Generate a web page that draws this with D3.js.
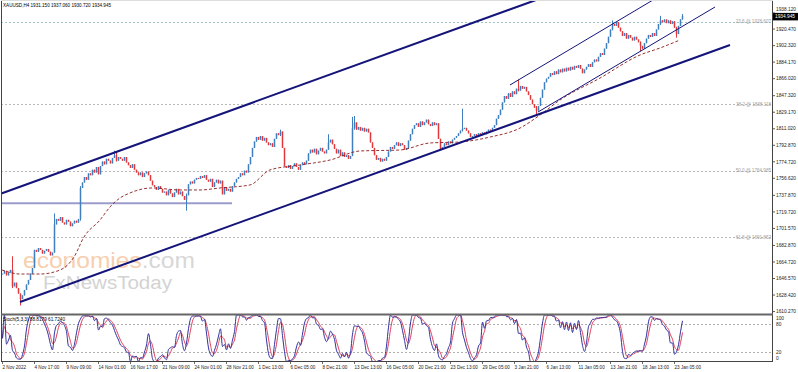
<!DOCTYPE html>
<html><head><meta charset="utf-8">
<script src="https://cdn.jsdelivr.net/npm/d3@7"></script>
<style>body{margin:0;background:#fff}svg{display:block}text{font-family:"Liberation Sans",Arial,sans-serif}</style>
</head><body>
<svg id="c" width="798" height="372"></svg>
<script>
// ---- data (XAUUSD H4) ----
const title = "XAUUSD,H4  1931.150 1937.060 1930.720 1934.945";
const stochTitle = "Stoch(5,3,3) 88.8179 61.7240";
const lastPrice = 1934.945;
const firstOpen = 1652;
const closes = [
1652,1655,1650,1653,1656,1638,1642,1636,1630,1624,
1628,1634,1640,1645,1652,1658,1678,1676,1680,1678,
1674,1677,1679,1676,1672,1675,1706,1712,1710,1714,
1708,1706,1711,1709,1704,1707,1710,1708,1712,1746,
1752,1758,1755,1762,1760,1766,1763,1769,1761,1770,
1775,1772,1778,1776,1773,1779,1782,1776,1780,1778,
1776,1780,1774,1771,1768,1772,1766,1763,1760,1763,
1758,1762,1764,1760,1754,1749,1747,1744,1748,1745,
1741,1742,1738,1744,1740,1736,1741,1745,1739,1742,
1737,1733,1738,1750,1753,1751,1755,1757,1756,1759,
1757,1760,1755,1753,1756,1747,1752,1755,1751,1754,
1739,1747,1743,1745,1742,1748,1752,1756,1758,1762,
1760,1765,1763,1772,1780,1790,1797,1802,1799,1803,
1798,1801,1796,1793,1795,1791,1800,1806,1804,1808,
1790,1770,1768,1771,1767,1770,1773,1769,1766,1771,
1774,1772,1776,1784,1788,1785,1789,1783,1787,1790,
1786,1784,1788,1796,1799,1794,1789,1784,1788,1781,
1785,1780,1782,1778,1781,1812,1818,1810,1813,1809,
1812,1808,1811,1807,1796,1790,1782,1777,1779,1775,
1778,1776,1780,1786,1791,1789,1793,1796,1792,1795,
1793,1788,1790,1798,1805,1811,1815,1817,1813,1819,
1815,1818,1821,1816,1814,1818,1815,1817,1800,1788,
1791,1795,1793,1797,1795,1799,1801,1803,1806,1809,
1811,1812,1809,1806,1802,1803,1805,1802,1806,1804,
1807,1805,1808,1810,1809,1812,1815,1822,1826,1832,
1840,1847,1844,1850,1846,1852,1849,1855,1853,1858,
1855,1857,1852,1848,1843,1838,1834,1831,1836,1845,
1854,1862,1866,1868,1872,1870,1874,1871,1876,1873,
1877,1874,1878,1875,1879,1876,1880,1878,1881,1877,
1872,1876,1879,1882,1879,1884,1887,1885,1890,1894,
1892,1899,1905,1912,1920,1926,1924,1928,1922,1918,
1913,1916,1910,1914,1911,1908,1912,1909,1906,1902,
1899,1905,1910,1914,1912,1916,1913,1920,1926,1930,
1928,1931,1927,1930,1926,1929,1922,1915,1924,1931.15,
1934.945
];
// notable wicks: [bar, high, low]
const wickBars = [
[5,1671,1636],[9,1630,1617],[26,1718,1675],[39,1748,1710],[56,1787,1779],[57,1786,1775],
[92,1740,1721],[139,1810,1803],[163,1805,1788],[175,1824,1781],[176,1825,1810],[230,1833,1808],
[258,1865,1852],[267,1836,1826],[305,1930,1919],[319,1907,1896],[329,1935,1925],[337,1923,1911],
[340,1937.06,1930.72]
];
const yTickValues = [1938.12,1920.47,1902.32,1884.17,1866.02,1847.32,1829.17,1811.02,1792.87,1774.72,1756.62,1737.87,1719.72,1701.57,1682.87,1664.72,1646.57,1628.42,1610.27];
const dateLabels = ["2 Nov 2022","4 Nov 17:00","9 Nov 09:00","14 Nov 01:00","16 Nov 17:00","21 Nov 09:00","24 Nov 01:00","28 Nov 21:00","1 Dec 13:00","6 Dec 05:00","8 Dec 21:00","13 Dec 13:00","16 Dec 05:00","20 Dec 21:00","23 Dec 13:00","29 Dec 05:00","3 Jan 21:00","6 Jan 13:00","11 Jan 05:00","13 Jan 21:00","18 Jan 13:00","23 Jan 05:00"];
const dateLabelBars = [0,16,32,48,64,80,96,112,128,144,160,176,192,208,224,240,256,272,288,304,320,336];
const fibLevels = ["23.6","38.2","50.0","61.8"];
const fibPrices = [1928.607,1838.118,1764.985,1691.852];
const maBars = [0,9,19,29,36,41,49,54,59,64,75,89,99,109,124,134,149,164,179,199,214,229,244,259,269,279,299,319,329,339];
const maValues = [1655.9,1651.5,1651.5,1655.9,1670.2,1692.2,1710.8,1725.1,1735.0,1740.5,1746.0,1743.8,1743.8,1746.0,1749.3,1765.8,1771.2,1776.7,1786.6,1787.7,1795.4,1796.5,1801.9,1811.8,1826.1,1842.6,1866.7,1892.0,1899.7,1908.5];
const channelLower = [[9,1620.8],[364,1903.0]];
const channelUpper = [[-1,1739.4],[267,1952.4]];
const miniLower = [[268,1829.4],[356.5,1944.7]];
const miniUpper = [[254,1859.1],[325.5,1952.4]];
const supportLine = [[-1,1729.2],[115,1729.2]];
const stochLevels = [100,80,20,0];

// ---- derived OHLC ----
const N = closes.length;
const opens = closes.map((c,i)=> i ? closes[i-1] : firstOpen);
const highs = closes.map((c,i)=> Math.max(c, opens[i]));
const lows = closes.map((c,i)=> Math.min(c, opens[i]));
wickBars.forEach(([i,h,l])=>{highs[i]=Math.max(h,highs[i]);lows[i]=Math.min(l,lows[i]);});

// stochastic 5,3,3
const num=[],den=[],K=[],D=[];
for(let i=0;i<N;i++){
  const s=Math.max(0,i-4);
  const hh=d3.max(highs.slice(s,i+1)), ll=d3.min(lows.slice(s,i+1));
  num[i]=closes[i]-ll; den[i]=hh-ll;
}
for(let i=0;i<N;i++){
  const s=Math.max(0,i-2);
  const a=d3.sum(num.slice(s,i+1)), b=d3.sum(den.slice(s,i+1));
  K[i]= b? a/b*100 : 50;
}
for(let i=0;i<N;i++){const s=Math.max(0,i-2);D[i]=d3.mean(K.slice(s,i+1));}

// ---- scales ----
const x = d3.scaleLinear().domain([0,385]).range([2,772]);
const y = d3.scaleLinear().domain([1607.6,1952.4]).range([314,0]);
const ys = d3.scaleLinear().domain([0,100]).range([361.6,315]);

const svg = d3.select("#c");
svg.append("rect").attr("width",798).attr("height",372).attr("fill","#fff");
const defs = svg.append("defs");
defs.append("clipPath").attr("id","mainClip").append("rect").attr("x",1).attr("y",0).attr("width",771).attr("height",314);
defs.append("clipPath").attr("id","stClip").append("rect").attr("x",1).attr("y",315).attr("width",771).attr("height",46);

const main = svg.append("g").attr("clip-path","url(#mainClip)");

// watermark
const wm = main.append("g").attr("opacity",0.5);
const wt = wm.append("text").attr("x",23).attr("y",268).attr("font-size",22)
  .attr("textLength",172).attr("lengthAdjust","spacingAndGlyphs");
wt.append("tspan").attr("fill","#f0a060").text("economies");
wt.append("tspan").attr("fill","#b0b0b0").text(".com");
wm.append("text").attr("x",43).attr("y",289).attr("font-size",18).attr("fill","#a8a8a8")
  .attr("textLength",129).attr("lengthAdjust","spacingAndGlyphs").text("FxNewsToday");

// fib lines
fibPrices.forEach((p,k)=>{
  main.append("line").attr("x1",1).attr("x2",772).attr("y1",Math.round(y(p))+0.5).attr("y2",Math.round(y(p))+0.5)
    .attr("stroke", k===0 ? "#9cc4cc" : "#b8b8b8").attr("stroke-width",1).attr("stroke-dasharray","2,2");
  main.append("text").attr("x",771).attr("y",y(p)+1.5).attr("text-anchor","end").attr("font-size",4.6)
    .attr("fill","#a0a0a0").text(fibLevels[k]+" @ "+p.toFixed(3));
});

// horizontal support
const lineGen = d3.line().x(d=>x(d[0])).y(d=>y(d[1]));
main.append("path").attr("d",lineGen(supportLine)).attr("stroke","#9c9ccc").attr("stroke-width",2).attr("fill","none");

// candles
const cg = main.append("g");
for(let i=0;i<N;i++){
  const up = closes[i]>=opens[i];
  const col = up ? "#3f7fbf" : "#e2383c";
  const cx = Math.round(x(i));
  cg.append("line").attr("x1",cx+0.5).attr("x2",cx+0.5).attr("y1",y(highs[i])).attr("y2",y(lows[i]))
    .attr("stroke",col).attr("stroke-width",1);
  const top=y(Math.max(opens[i],closes[i])), bot=y(Math.min(opens[i],closes[i]));
  cg.append("rect").attr("x",cx-0.25).attr("y",top).attr("width",1.5).attr("height",Math.max(1,bot-top)).attr("fill",col);
}

// moving average
main.append("path").datum(maBars.map((b,k)=>[b,maValues[k]]))
  .attr("d",d3.line().x(d=>x(d[0])).y(d=>y(d[1])).curve(d3.curveMonotoneX))
  .attr("fill","none").attr("stroke","#8b1a1a").attr("stroke-width",0.9).attr("stroke-dasharray","3,2");

// channels
[channelLower,channelUpper].forEach(c=>main.append("path").attr("d",lineGen(c)).attr("stroke","#14147a").attr("stroke-width",2).attr("fill","none"));
[miniLower,miniUpper].forEach(c=>main.append("path").attr("d",lineGen(c)).attr("stroke","#14147a").attr("stroke-width",1).attr("fill","none"));

// title
svg.append("text").attr("x",3).attr("y",7).attr("font-size",4.6).attr("fill","#000").text(title);

// right axis
const ax = svg.append("g");
yTickValues.forEach((v,k)=>{
  const yy=y(v);
  ax.append("line").attr("x1",772).attr("x2",775).attr("y1",yy).attr("y2",yy).attr("stroke","#333").attr("stroke-width",0.8);
  ax.append("text").attr("x",776).attr("y",(k===0? yy-2.2 : yy+1.7)).attr("font-size",4.8).attr("fill","#222").text(v.toFixed(3));
});
// last price box
const ly=y(lastPrice);
ax.append("rect").attr("x",773).attr("y",ly-3).attr("width",25).attr("height",7.5).attr("fill","#000");
ax.append("text").attr("x",775).attr("y",ly+2.6).attr("font-size",4.8).attr("fill","#fff").text(lastPrice.toFixed(3));

// stochastic panel
const st = svg.append("g").attr("clip-path","url(#stClip)");
[80,20].forEach(v=>st.append("line").attr("x1",1).attr("x2",772).attr("y1",Math.round(ys(v))+0.5).attr("y2",Math.round(ys(v))+0.5)
  .attr("stroke","#b0b0b0").attr("stroke-dasharray","2,2"));
const sl = d3.line().x((d,i)=>x(i)+0.5).y(d=>ys(d)).curve(d3.curveMonotoneX);
st.append("path").attr("d",sl(D)).attr("fill","none").attr("stroke","#e0405a").attr("stroke-width",1);
st.append("path").attr("d",sl(K)).attr("fill","none").attr("stroke","#2f2f9f").attr("stroke-width",1);
svg.append("text").attr("x",3).attr("y",321).attr("font-size",4.7).attr("fill","#000").text(stochTitle);
stochLevels.forEach(v=>{
  const yy = v===100 ? 318.7 : v===0 ? 358.2 : ys(v);
  svg.append("text").attr("x",776).attr("y",yy+1.7).attr("font-size",4.8).attr("fill","#222").text(v);
});

// frame
const fr = svg.append("g").attr("stroke","#444").attr("fill","none");
fr.append("line").attr("x1",1.5).attr("x2",1.5).attr("y1",0).attr("y2",361);
fr.append("line").attr("x1",772.5).attr("x2",772.5).attr("y1",0).attr("y2",361);
fr.append("line").attr("x1",1).attr("x2",773).attr("y1",314.5).attr("y2",314.5).attr("stroke-width",2).attr("stroke","#666");
fr.append("line").attr("x1",1).attr("x2",773).attr("y1",361.5).attr("y2",361.5);
fr.append("line").attr("x1",1).attr("x2",773).attr("y1",0.5).attr("y2",0.5).attr("stroke","#ddd");

// bottom date axis
dateLabelBars.forEach((b,k)=>{
  const xx=Math.round(x(b))+0.5;
  svg.append("line").attr("x1",xx).attr("x2",xx).attr("y1",361).attr("y2",364).attr("stroke","#444").attr("stroke-width",0.8);
  svg.append("text").attr("x",xx).attr("y",368.5).attr("font-size",4.6).attr("fill","#222").text(dateLabels[k]);
});
</script>
</body></html>
